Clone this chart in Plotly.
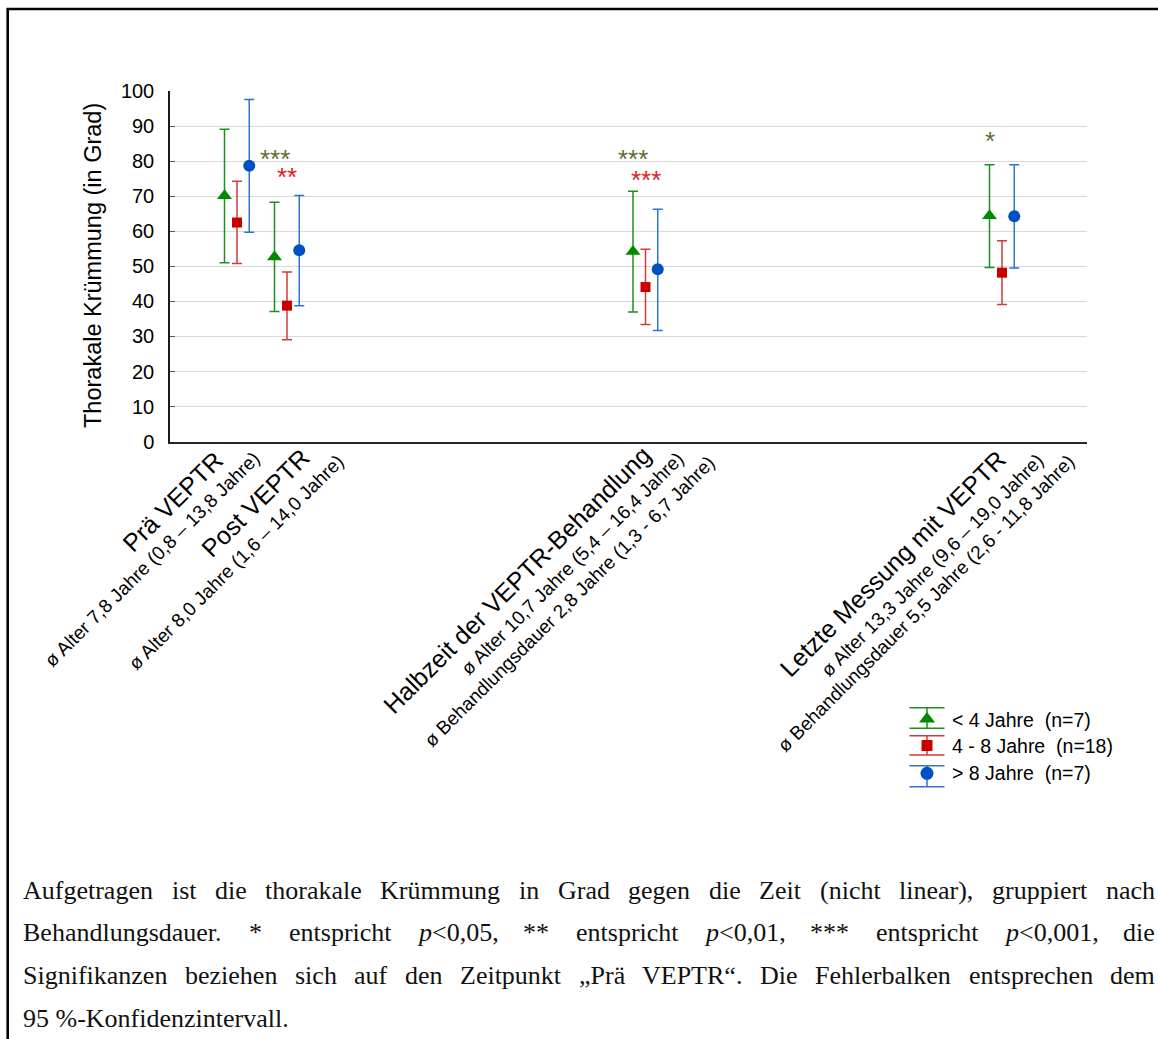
import plotly.graph_objects as go

W, H = 1158, 1039

# ---- time points (non-linear spacing along x) ----
categories = ["Prä VEPTR", "Post VEPTR", "Halbzeit der VEPTR-Behandlung", "Letzte Messung mit VEPTR"]
age_info = [
    "ø Alter 7,8 Jahre (0,8 – 13,8 Jahre)",
    "ø Alter 8,0 Jahre (1,6 – 14,0 Jahre)",
    "ø Alter 10,7 Jahre (5,4 – 16,4 Jahre)",
    "ø Alter 13,3 Jahre (9,6 – 19,0 Jahre)",
]
duration_info = [
    "",
    "",
    "ø Behandlungsdauer 2,8 Jahre (1,3 - 6,7 Jahre)",
    "ø Behandlungsdauer 5,5 Jahre (2,6 - 11,8 Jahre)",
]
time_pos = [0.0, 1.0, 8.17, 15.3]

# ---- groups by treatment duration: mean and 95 % CI ----
series_names = ["< 4 Jahre\u00a0\u00a0(n=7)", "4 - 8 Jahre\u00a0\u00a0(n=18)", "> 8 Jahre\u00a0\u00a0(n=7)"]

mean_lt4 = [70.1, 52.7, 54.2, 64.4]
lo_lt4 = [51.0, 37.1, 37.0, 49.7]
hi_lt4 = [89.1, 68.3, 71.4, 79.0]

mean_4to8 = [62.5, 38.8, 44.1, 48.2]
lo_4to8 = [50.8, 29.1, 33.4, 39.1]
hi_4to8 = [74.3, 48.4, 54.9, 57.3]

mean_gt8 = [78.7, 54.6, 49.2, 64.3]
lo_gt8 = [59.7, 38.8, 31.7, 49.5]
hi_gt8 = [97.6, 70.2, 66.3, 79.0]

# significance vs. "Prä VEPTR"
sig_lt4 = ["", "***", "***", "*"]
sig_4to8 = ["", "**", "***", ""]
sig_gt8 = ["", "", "", ""]

y_ticks = list(range(0, 101, 10))

caption_lines = [
    "Aufgetragen ist die thorakale Krümmung in Grad gegen die Zeit (nicht linear), gruppiert nach",
    "Behandlungsdauer. * entspricht p<0,05, ** entspricht p<0,01, *** entspricht p<0,001, die",
    "Signifikanzen beziehen sich auf den Zeitpunkt „Prä VEPTR“. Die Fehlerbalken entsprechen dem",
    "95 %-Konfidenzintervall.",
]

# ---- styling ----
SANS = "Liberation Sans, Arial, sans-serif"
SERIF = "Liberation Serif, Times New Roman, serif"
marker_colors = ["#008a00", "#c80000", "#0052c4"]
bar_colors = ["#1f8f1f", "#d13a3a", "#3072d0"]
star_colors = ["#5b6e2f", "#e0201b", "#3072d0"]
symbols = ["triangle-up", "square", "circle"]
marker_sizes = [13, 10, 12]
x_offsets = [-0.25, 0.0, 0.245]
star_y = [[0, 80.7, 80.7, 85.8], [0, 75.6, 74.7, 0], [0, 0, 0, 0]]

means = [mean_lt4, mean_4to8, mean_gt8]
los = [lo_lt4, lo_4to8, lo_gt8]
his = [hi_lt4, hi_4to8, hi_gt8]
sigs = [sig_lt4, sig_4to8, sig_gt8]

fig = go.Figure()

for k in range(3):
    xs = [p + x_offsets[k] for p in time_pos]
    fig.add_trace(go.Scatter(
        x=xs, y=means[k], mode="markers", name=series_names[k],
        marker=dict(symbol=symbols[k], size=marker_sizes[k], color=marker_colors[k],
                    line=dict(width=0)),
        error_y=dict(type="data", symmetric=False,
                     array=[h - m for h, m in zip(his[k], means[k])],
                     arrayminus=[m - l for m, l in zip(means[k], los[k])],
                     color=bar_colors[k], thickness=1.5, width=5),
        showlegend=False, cliponaxis=False, xaxis="x", yaxis="y",
    ))

annotations = []

# significance stars
for k in range(3):
    for i, s in enumerate(sigs[k]):
        if s:
            annotations.append(dict(
                x=time_pos[i] + x_offsets[k], y=star_y[k][i], xref="x", yref="y",
                text=s, showarrow=False, xanchor="center", yanchor="middle",
                font=dict(family=SANS, size=26, color=star_colors[k]),
            ))

# rotated category labels below the x axis (pixel shifts from the tick)
label_shift = [
    [(-65, -60), (-85, -118), None],
    [(-32, -61), (-51, -121), None],
    [(-129, -138), (-73, -122), (-76, -160)],
    [(-110, -122), (-70, -124), (-76, -162)],
]
for i in range(4):
    lines = [(categories[i], 25), (age_info[i], 19), (duration_info[i], 19)]
    for j, (txt, size) in enumerate(lines):
        if not txt:
            continue
        dx, dy = label_shift[i][j]
        annotations.append(dict(
            x=time_pos[i], y=0, xref="x", yref="y", xshift=dx, yshift=dy,
            text=txt, showarrow=False, textangle=-45,
            xanchor="center", yanchor="middle",
            font=dict(family=SANS, size=size, color="#000"),
        ))

# y axis title
annotations.append(dict(
    x=93, y=266, xref="x2", yref="y2", text="Thorakale Krümmung (in Grad)",
    textangle=-90, showarrow=False, xanchor="center", yanchor="middle",
    font=dict(family=SANS, size=23.5, color="#000"),
))

# ---- legend (drawn on a pixel overlay) ----
leg_x = 927
leg_marker_y = [719, 745.5, 773.3]
leg_cap_top = [707.7, 735.7, 765.7]
leg_cap_bot = [728.3, 755.0, 786.7]
leg_text_y = [720, 746, 773]
for k in range(3):
    fig.add_trace(go.Scatter(
        x=[leg_x], y=[leg_marker_y[k]], mode="markers",
        marker=dict(symbol=symbols[k], size=marker_sizes[k] + 1, color=marker_colors[k]),
        error_y=dict(type="data", symmetric=False,
                     array=[leg_cap_bot[k] - leg_marker_y[k]],
                     arrayminus=[leg_marker_y[k] - leg_cap_top[k]],
                     color=bar_colors[k], thickness=1.5, width=17.5),
        showlegend=False, xaxis="x2", yaxis="y2", cliponaxis=False,
    ))
    annotations.append(dict(
        x=950, y=leg_text_y[k], xref="x2", yref="y2",
        text=series_names[k].replace("<", "&lt;").replace(">", "&gt;"),
        showarrow=False, xanchor="left", yanchor="middle",
        font=dict(family=SANS, size=19.5, color="#000"),
    ))

# ---- justified caption ----
TIMES_W = {
    " ": 250, "A": 722, "B": 667, "D": 722, "E": 611, "F": 556, "G": 722, "K": 722,
    "P": 556, "R": 667, "S": 556, "T": 611, "V": 722, "Z": 611,
    "a": 444, "b": 500, "c": 444, "d": 500, "e": 444, "f": 333, "g": 500, "h": 500,
    "i": 278, "k": 500, "l": 278, "m": 778, "n": 500, "o": 500, "p": 500, "r": 333,
    "s": 389, "t": 278, "u": 500, "v": 500, "z": 444, "ä": 444, "ü": 500,
    "(": 333, ")": 333, ",": 250, ".": 250, "*": 500, "<": 564, "%": 833, "-": 333,
    "„": 444, "“": 444,
}


def word_width(word, size):
    return sum(TIMES_W.get(ch, 500) for ch in word) / 1000.0 * size


def word_markup(word):
    w = word.replace("<", "&lt;")
    if word.startswith("p<"):
        w = "<i>p</i>" + w[1:]
    return w


CAP_SIZE = 26
cap_left, cap_right = 23, 1155
cap_mid_y = [890, 932, 975, 1018]
for li, line in enumerate(caption_lines):
    justify = li < len(caption_lines) - 1
    if not justify:
        annotations.append(dict(
            x=cap_left - 2, y=cap_mid_y[li], xref="x2", yref="y2", text=line,
            showarrow=False, xanchor="left", yanchor="middle",
            font=dict(family=SERIF, size=CAP_SIZE, color="#111"),
        ))
        continue
    words = line.split(" ")
    widths = [word_width(w, CAP_SIZE) for w in words]
    gap = (cap_right - cap_left - sum(widths)) / (len(words) - 1)
    xpos = cap_left
    for w, wd in zip(words, widths):
        annotations.append(dict(
            x=xpos - 2, y=cap_mid_y[li], xref="x2", yref="y2", text=word_markup(w),
            showarrow=False, xanchor="left", yanchor="middle",
            font=dict(family=SERIF, size=CAP_SIZE, color="#111"),
        ))
        xpos += wd + gap

shapes = [
    # outer frame of the figure box
    dict(type="rect", xref="x2", yref="y2", x0=7.7, y0=9, x1=W + 20, y1=H + 20,
         line=dict(color="#000", width=2.6), fillcolor="rgba(0,0,0,0)", layer="above"),
]

fig.update_layout(
    width=W, height=H, autosize=False,
    margin=dict(l=0, r=0, t=0, b=0, pad=0, autoexpand=False),
    paper_bgcolor="white", plot_bgcolor="rgba(0,0,0,0)",
    showlegend=False,
    xaxis=dict(domain=[170 / W, 1087 / W], range=[-1.34, 17.0], anchor="y",
               showline=True, linecolor="#262626", linewidth=2, ticks="",
               showticklabels=False, showgrid=False, zeroline=False, fixedrange=True,
               automargin=False),
    yaxis=dict(domain=[1 - 441.7 / H, 1 - 91 / H], range=[0, 100], anchor="x",
               tickmode="array", tickvals=y_ticks, ticktext=[str(v) for v in y_ticks],
               showline=True, linecolor="#1a1a1a", linewidth=1.5,
               ticks="inside", ticklen=5, tickcolor="#555", tickwidth=1,
               showgrid=True, gridcolor="#d9d9d9", gridwidth=1, zeroline=False,
               tickfont=dict(family=SANS, size=20, color="#000"),
               ticklabelstandoff=10, fixedrange=True, automargin=False),
    xaxis2=dict(domain=[0, 1], range=[0, W], anchor="y2", visible=False, fixedrange=True,
                showticklabels=False, automargin=False),
    yaxis2=dict(domain=[0, 1], range=[H, 0], anchor="x2", visible=False, fixedrange=True,
                showticklabels=False, automargin=False),
    annotations=annotations,
    shapes=shapes,
)

fig.write_html("out.html")
